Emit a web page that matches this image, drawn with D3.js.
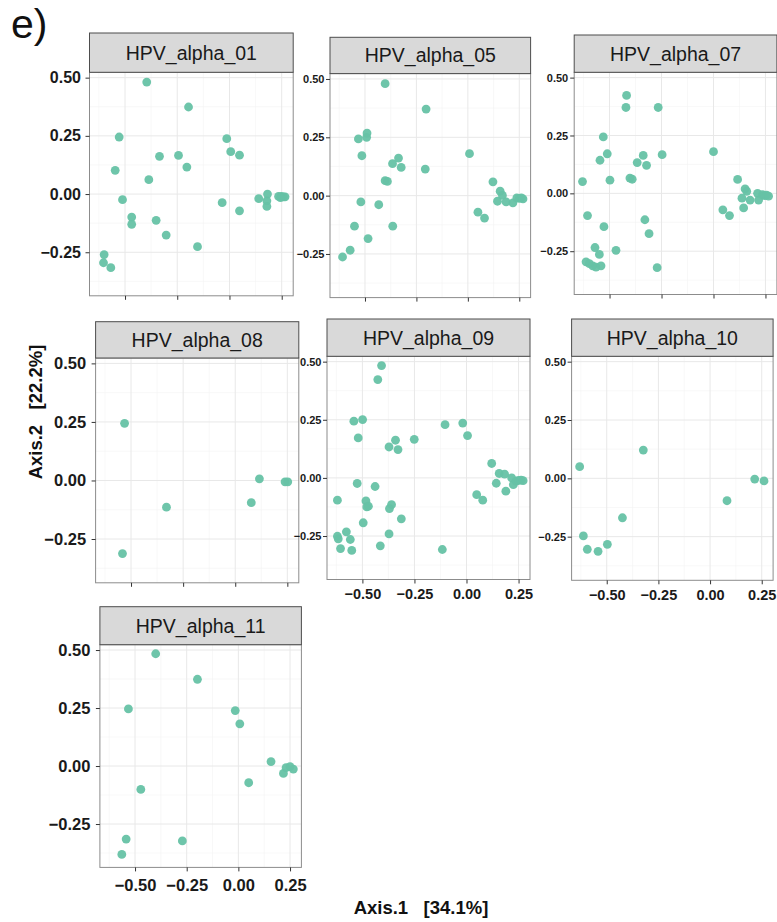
<!DOCTYPE html>
<html>
<head>
<meta charset="utf-8">
<script src="https://cdn.jsdelivr.net/npm/d3@7"></script>
<style>
  html, body { margin: 0; padding: 0; background: #ffffff; }
  svg { display: block; }
  text { font-family: "Liberation Sans", Arial, Helvetica, sans-serif; }
</style>
</head>
<body>
<svg id="chart" width="777" height="922"></svg>
<script>
// PCoA ordination, one facet per HPV alpha species group
const panelNames = ["HPV_alpha_01", "HPV_alpha_05", "HPV_alpha_07", "HPV_alpha_08",
                    "HPV_alpha_09", "HPV_alpha_10", "HPV_alpha_11"];

// [Axis.1, Axis.2] sample coordinates for each facet
const alpha01 = [[-0.396,0.481],[-0.196,0.374],[-0.528,0.245],[-0.547,0.102],[-0.512,-0.024],
  [-0.468,-0.099],[-0.468,-0.130],[-0.386,0.062],[-0.335,0.162],[-0.351,-0.113],[-0.303,-0.176],
  [-0.244,0.166],[-0.204,0.116],[-0.153,-0.226],[-0.600,-0.260],[-0.603,-0.295],[-0.568,-0.316],
  [-0.013,0.238],[0.006,0.182],[0.048,0.167],[-0.035,-0.037],[0.048,-0.072],[0.140,-0.020],
  [0.182,0.000],[0.179,-0.029],[0.179,-0.053],[0.235,-0.010],[0.248,-0.010],[0.258,-0.012],
  [0.266,-0.012],[0.244,-0.015]];
const alpha05 = [[-0.402,0.480],[-0.203,0.371],[-0.532,0.243],[-0.492,0.250],[-0.490,0.268],
  [-0.515,0.171],[-0.366,0.137],[-0.337,0.161],[-0.324,0.121],[-0.207,0.114],[-0.402,0.064],
  [-0.391,0.061],[-0.520,-0.027],[-0.433,-0.039],[-0.551,-0.131],[-0.365,-0.131],[-0.485,-0.184],
  [-0.572,-0.234],[-0.609,-0.263],[0.008,0.180],[0.049,-0.071],[0.081,-0.096],[0.122,0.059],
  [0.157,0.019],[0.168,0.001],[0.144,-0.024],[0.186,-0.027],[0.219,-0.031],[0.238,-0.010],
  [0.250,-0.012],[0.260,-0.010],[0.268,-0.014]];
const alpha07 = [[-0.418,0.423],[-0.421,0.371],[-0.266,0.371],[-0.530,0.244],[-0.511,0.171],
  [-0.546,0.143],[-0.247,0.167],[-0.338,0.164],[-0.367,0.133],[-0.322,0.121],[-0.402,0.066],
  [-0.391,0.061],[-0.498,0.057],[-0.630,0.051],[-0.606,-0.096],[-0.527,-0.144],[-0.330,-0.114],
  [-0.310,-0.174],[-0.469,-0.246],[-0.570,-0.234],[-0.549,-0.264],[-0.271,-0.321],[-0.613,-0.296],
  [-0.597,-0.304],[-0.581,-0.313],[-0.565,-0.319],[-0.541,-0.313],[0.000,0.180],[0.045,-0.071],
  [0.077,-0.096],[0.116,0.060],[0.152,0.019],[0.160,0.009],[0.137,-0.021],[0.145,-0.063],
  [0.176,-0.029],[0.212,0.000],[0.217,-0.029],[0.236,-0.006],[0.245,-0.010],[0.255,-0.008],
  [0.265,-0.012]];
const alpha08 = [[-0.531,0.244],[-0.541,-0.312],[-0.330,-0.114],[0.077,-0.095],[0.116,0.007],
  [0.239,-0.006],[0.252,-0.006]];
const alpha09 = [[-0.408,0.483],[-0.426,0.423],[-0.541,0.244],[-0.499,0.251],[-0.520,0.172],
  [-0.341,0.162],[-0.372,0.133],[-0.329,0.122],[-0.251,0.166],[-0.525,-0.024],[-0.439,-0.037],
  [-0.620,-0.096],[-0.483,-0.099],[-0.479,-0.125],[-0.471,-0.122],[-0.360,-0.115],[-0.370,-0.132],
  [-0.313,-0.176],[-0.496,-0.193],[-0.577,-0.232],[-0.620,-0.251],[-0.616,-0.262],[-0.558,-0.265],
  [-0.605,-0.304],[-0.551,-0.312],[-0.372,-0.241],[-0.414,-0.292],[-0.116,-0.308],[-0.103,0.229],
  [-0.018,0.236],[0.005,0.182],[0.049,-0.072],[0.078,-0.096],[0.121,0.062],[0.157,0.019],
  [0.183,0.016],[0.143,-0.023],[0.189,-0.057],[0.217,0.000],[0.225,-0.029],[0.238,-0.014],
  [0.250,-0.011],[0.262,-0.010],[0.272,-0.012]];
const alpha10 = [[-0.631,0.050],[-0.323,0.121],[-0.424,-0.169],[-0.613,-0.247],[-0.594,-0.304],
  [-0.542,-0.313],[-0.497,-0.283],[0.082,-0.096],[0.216,-0.003],[0.261,-0.011]];
const alpha11 = [[-0.400,0.484],[-0.198,0.374],[-0.532,0.246],[-0.015,0.239],[0.007,0.182],
  [0.158,0.019],[0.218,-0.032],[0.231,-0.007],[0.250,-0.003],[0.266,-0.013],[0.050,-0.072],
  [-0.472,-0.101],[-0.543,-0.315],[-0.271,-0.323],[-0.564,-0.381]];

const panelData = [alpha01, alpha05, alpha07, alpha08, alpha09, alpha10, alpha11];

// Shared axis limits and breaks
const xDomain = [-0.67, 0.305];
const yDomain = [-0.437, 0.523];
const xTicks = [-0.5, -0.25, 0, 0.25];
const yTicks = [-0.25, 0, 0.25, 0.5];
const xMinor = [-0.625, -0.375, -0.125, 0.125];
const yMinor = [-0.375, -0.125, 0.125, 0.375];

const axisTitleX = "Axis.1   [34.1%]";
const axisTitleY = "Axis.2   [22.2%]";
const figureTag = "e)";

// Facet placement on the page
const layout = [
  {x0: 89.5,  x1: 293.2, y0: 72.3,  y1: 295.8, stripTop: 33,    yFont: 16,   yPad: 4.5, xFont: 0},
  {x0: 330,   x1: 530.6, y0: 73.6,  y1: 297.6, stripTop: 37.3,  yFont: 11,   yPad: 1.5, xFont: 0},
  {x0: 574.2, x1: 776.9, y0: 72.3,  y1: 294.5, stripTop: 35,    yFont: 11,   yPad: 2,   xFont: 0},
  {x0: 95.6,  x1: 298.8, y0: 358,   y1: 582.8, stripTop: 321.7, yFont: 16.5, yPad: 5.5, xFont: 0},
  {x0: 327,   x1: 530,   y0: 356.3, y1: 579.5, stripTop: 319,   yFont: 11,   yPad: 1.5, xFont: 14.5, xPad: 5},
  {x0: 571.6, x1: 773.1, y0: 356.3, y1: 580.3, stripTop: 319,   yFont: 11,   yPad: 1.5, xFont: 14.5, xPad: 5},
  {x0: 99.9,  x1: 301.4, y0: 644.7, y1: 867.4, stripTop: 606.7, yFont: 16.5, yPad: 5.5, xFont: 16.5, xPad: 7.5}
];

const pointColor = "#66c2a5";
const fmt = v => d3.format(".2f")(v).replace("-", "\u2212");

const svg = d3.select("#chart");

panelNames.forEach((name, i) => {
  const L = layout[i];
  const x = d3.scaleLinear().domain(xDomain).range([L.x0, L.x1]);
  const y = d3.scaleLinear().domain(yDomain).range([L.y1, L.y0]);
  const g = svg.append("g").attr("class", "facet");

  // panel background
  g.append("rect")
    .attr("x", L.x0).attr("y", L.y0)
    .attr("width", L.x1 - L.x0).attr("height", L.y1 - L.y0)
    .attr("fill", "#ffffff");

  // minor then major grid
  g.selectAll(".vminor").data(xMinor).join("line")
    .attr("x1", d => x(d)).attr("x2", d => x(d))
    .attr("y1", L.y0).attr("y2", L.y1)
    .attr("stroke", "#f3f3f3").attr("stroke-width", 0.6);
  g.selectAll(".hminor").data(yMinor).join("line")
    .attr("y1", d => y(d)).attr("y2", d => y(d))
    .attr("x1", L.x0).attr("x2", L.x1)
    .attr("stroke", "#f3f3f3").attr("stroke-width", 0.6);
  g.selectAll(".vmajor").data(xTicks).join("line")
    .attr("x1", d => x(d)).attr("x2", d => x(d))
    .attr("y1", L.y0).attr("y2", L.y1)
    .attr("stroke", "#e8e8e8").attr("stroke-width", 1);
  g.selectAll(".hmajor").data(yTicks).join("line")
    .attr("y1", d => y(d)).attr("y2", d => y(d))
    .attr("x1", L.x0).attr("x2", L.x1)
    .attr("stroke", "#e8e8e8").attr("stroke-width", 1);

  // sample points
  g.selectAll("circle").data(panelData[i]).join("circle")
    .attr("cx", d => x(d[0]))
    .attr("cy", d => y(d[1]))
    .attr("r", 4.4)
    .attr("fill", pointColor)
    .attr("fill-opacity", 0.95);

  // panel border
  g.append("rect")
    .attr("x", L.x0).attr("y", L.y0)
    .attr("width", L.x1 - L.x0).attr("height", L.y1 - L.y0)
    .attr("fill", "none").attr("stroke", "#8c8c8c").attr("stroke-width", 1);

  // y axis
  const yAxis = g.append("g")
    .attr("transform", `translate(${L.x0},0)`)
    .call(d3.axisLeft(y).tickValues(yTicks).tickFormat(fmt).tickSize(4).tickPadding(L.yPad));
  yAxis.select(".domain").remove();
  yAxis.selectAll("line").attr("stroke", "#333333");
  yAxis.selectAll("text")
    .attr("font-size", L.yFont).attr("font-weight", "bold").attr("fill", "#1a1a1a")
    .attr("font-family", "Liberation Sans, Arial, sans-serif");

  // x axis
  const xAxis = g.append("g")
    .attr("transform", `translate(0,${L.y1})`)
    .call(d3.axisBottom(x).tickValues(xTicks).tickFormat(L.xFont ? fmt : () => "")
      .tickSize(4).tickPadding(L.xPad || 3));
  xAxis.select(".domain").remove();
  xAxis.selectAll("line").attr("stroke", "#333333");
  xAxis.selectAll("text")
    .attr("font-size", L.xFont || 10).attr("font-weight", "bold").attr("fill", "#1a1a1a")
    .attr("font-family", "Liberation Sans, Arial, sans-serif");

  // facet strip
  g.append("rect")
    .attr("x", L.x0).attr("y", L.stripTop)
    .attr("width", L.x1 - L.x0).attr("height", L.y0 - L.stripTop)
    .attr("fill", "#d9d9d9").attr("stroke", "#4d4d4d").attr("stroke-width", 1);
  g.append("text")
    .attr("x", (L.x0 + L.x1) / 2)
    .attr("y", (L.stripTop + L.y0) / 2)
    .attr("dy", "0.36em")
    .attr("text-anchor", "middle")
    .attr("font-size", 19.5)
    .attr("fill", "#1a1a1a")
    .text(name);
});

// axis titles
svg.append("text")
  .attr("x", 421).attr("y", 914)
  .attr("text-anchor", "middle")
  .attr("font-size", 18.5).attr("font-weight", "bold").attr("fill", "#111")
  .style("white-space", "pre")
  .text(axisTitleX);

svg.append("text")
  .attr("transform", "translate(41.5,412) rotate(-90)")
  .attr("text-anchor", "middle")
  .attr("font-size", 18.5).attr("font-weight", "bold").attr("fill", "#111")
  .style("white-space", "pre")
  .text(axisTitleY);

// figure tag
svg.append("text")
  .attr("x", 11).attr("y", 38)
  .attr("font-size", 41).attr("fill", "#111")
  .text(figureTag);
</script>
</body>
</html>
